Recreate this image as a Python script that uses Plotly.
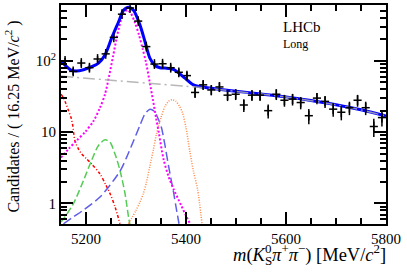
import numpy as np
import plotly.graph_objects as go

# ---------------- data ----------------
mass_min = 5150.0
bin_width = 16.25
counts = [100, 71, 93, 80, 106, 125, 213, 450, 550, 360,
          158, 90, 91, 80, 69, 62, 36, 46, 39, 43,
          33, 34, 24, 33, 33, 20, 34, 28, 29, 26,
          17, 30, 27, 21, 19, 22, 28, 22, 12, 16]

total_x = [5150, 5160, 5170, 5180, 5195, 5210, 5225, 5238, 5251, 5265, 5275, 5285,
           5295, 5308, 5318, 5328, 5338, 5348, 5358, 5368, 5376, 5385, 5398, 5415,
           5435, 5470, 5500, 5550, 5600, 5650, 5700, 5750, 5800]
total_y = [100, 84, 74, 72, 75, 82, 93, 121, 206, 350, 510, 565,
           510, 316, 185, 108, 86, 80, 79, 78, 75, 68, 57, 46,
           42.5, 39.5, 37.5, 34.3, 31.2, 27.7, 24.2, 20.6, 16.8]

comb_x = [5150, 5200, 5250, 5300, 5350, 5400, 5450, 5500, 5550, 5600, 5650, 5700, 5750, 5800]
comb_y = [61, 57, 53.5, 50, 47, 44, 40.8, 37.3, 34.2, 31.1, 27.6, 24.1, 20.5, 16.8]

sig_x = [5150, 5165, 5181, 5198, 5215, 5228, 5238, 5246, 5254, 5262, 5270, 5277, 5283,
         5290, 5298, 5306, 5313, 5320, 5327, 5334, 5340, 5346, 5355, 5365, 5375, 5390, 5408]
sig_y = [4.4, 5.8, 7.6, 10, 14.3, 22, 34, 60, 115, 220, 370, 480, 515,
         460, 340, 230, 150, 95, 52, 28, 16, 9.5, 4.2, 2.4, 1.6, 0.95, 0.52]

red_x = [5150, 5155, 5160, 5165, 5170, 5173, 5178, 5185, 5191, 5200, 5211, 5228, 5240, 5248, 5258, 5268]
red_y = [34, 30, 25, 20, 16, 13, 7.5, 5.8, 5.0, 4.3, 3.6, 2.6, 1.8, 1.38, 0.9, 0.52]

green_x = [5150, 5158, 5175, 5195, 5211, 5225, 5238, 5248, 5258, 5268, 5278, 5285, 5288]
green_y = [0.55, 0.65, 1.0, 2.1, 4.0, 6.5, 7.8, 7.2, 4.95, 2.9, 1.38, 0.65, 0.5]

bdash_x = [5155, 5175, 5195, 5228, 5255, 5270, 5281, 5295, 5308, 5318, 5328, 5337,
           5345, 5351, 5358, 5365, 5370, 5375, 5380, 5386]
bdash_y = [0.52, 0.65, 0.81, 1.23, 2.1, 3.0, 4.4, 7.5, 12.5, 18, 21, 19.5,
           15, 11.5, 6.5, 3.4, 2.2, 1.45, 0.9, 0.52]

orange_x = [5285, 5300, 5308, 5315, 5321, 5328, 5335, 5341, 5350, 5358, 5365, 5372,
            5380, 5387, 5393, 5400, 5408, 5415, 5423, 5432]
orange_y = [0.52, 0.8, 1.05, 1.4, 2.0, 3.4, 5.8, 9.5, 16, 23, 27, 28.5,
            27, 23, 18.7, 11.5, 5.2, 2.8, 1.6, 0.52]

x_tick_vals = [5200, 5400, 5600, 5800]
y_tick_vals = [1, 10, 100]
y_tick_text = ["1", "10", "10<sup>2</sup>"]

# ---------------- figure ----------------
FONT = "Liberation Serif"
counts_arr = np.array(counts, dtype=float)
centers = mass_min + bin_width * (np.arange(len(counts)) + 0.5)
errs = np.sqrt(counts_arr)

fig = go.Figure()

def curve(x, y, color, width, dash):
    fig.add_trace(go.Scatter(x=x, y=y, mode="lines",
                             line=dict(color=color, width=width, dash=dash,
                                       shape="spline", smoothing=0.8),
                             hoverinfo="skip", showlegend=False))

curve(red_x, red_y, "#ff0000", 1.5, "3px,2px,1px,2px")
curve(green_x, green_y, "#55cc55", 1.5, "7px,3px")
curve(bdash_x, bdash_y, "#5e5ee8", 1.5, "9px,4px")
curve(orange_x, orange_y, "#ff8844", 1.5, "1px,1.5px")
curve(sig_x, sig_y, "#ff00ff", 2, "2px,2px")
curve(total_x, total_y, "#0000ff", 3, "solid")
curve(comb_x, comb_y, "rgba(170,170,170,0.85)", 1.5, "12px,4px,2px,4px")

fig.add_trace(go.Scatter(
    x=centers, y=counts_arr, mode="markers",
    marker=dict(symbol="line-ns", size=7, color="black",
                line=dict(color="black", width=1.5)),
    error_y=dict(type="data", array=errs, color="black", thickness=1.5, width=0),
    error_x=dict(type="constant", value=bin_width / 2, color="black", thickness=1.5, width=0),
    hoverinfo="skip", showlegend=False))

axis_common = dict(showline=True, linecolor="black", linewidth=2, mirror="ticks",
                   ticks="inside", tickcolor="black", tickwidth=1.5,
                   showgrid=False, zeroline=False,
                   tickfont=dict(family=FONT, size=15, color="black"))

fig.update_xaxes(range=[5150, 5800], tickvals=x_tick_vals, ticklen=12,
                 minor=dict(dtick=50, tick0=5150, ticks="inside", ticklen=6,
                            tickcolor="black", tickwidth=1.5, showgrid=False),
                 **axis_common)

minor_y = [v * m for m in (0.1, 1, 10, 100) for v in range(2, 10)]
fig.update_yaxes(type="log", range=[-0.2875, 2.782], tickvals=y_tick_vals,
                 ticktext=y_tick_text, ticklen=12,
                 minor=dict(tickvals=minor_y, ticks="inside", ticklen=6,
                            tickcolor="black", tickwidth=1.5, showgrid=False),
                 **axis_common)

XT = 18.5
fig.update_layout(
    width=407, height=274,
    margin=dict(l=61, r=21, t=3, b=50),
    paper_bgcolor="white", plot_bgcolor="white",
    font=dict(family=FONT, color="black"),
    annotations=[
        dict(text="Candidates / ( 16.25 MeV/<i>c</i><sup>2</sup> )", textangle=-90,
             xref="paper", yref="paper", x=-0.148, y=0.49, xanchor="center", yanchor="middle",
             showarrow=False, font=dict(family=FONT, size=16, color="black")),
        dict(text="<i>m</i>(<i>K</i><sub>S</sub><i>π</i><sup>+</sup><i>π</i><sup>−</sup>) [MeV/<i>c</i><sup>2</sup>]",
             xref="paper", yref="paper", x=1.005, y=-0.140, xanchor="right", yanchor="middle",
             showarrow=False, font=dict(family=FONT, size=XT, color="black")),
        dict(text="0", xref="paper", yref="paper", x=0.638, y=-0.112,
             xanchor="center", yanchor="middle", showarrow=False,
             font=dict(family=FONT, size=13, color="black")),
        dict(text="LHCb", xref="paper", yref="paper", x=0.676, y=0.90,
             xanchor="left", yanchor="middle", showarrow=False,
             font=dict(family=FONT, size=15, color="black")),
        dict(text="Long", xref="paper", yref="paper", x=0.678, y=0.822,
             xanchor="left", yanchor="middle", showarrow=False,
             font=dict(family=FONT, size=12, color="black")),
    ],
)

fig.write_html("out.html", post_script="document.body.style.margin='0';",
               config={"displayModeBar": False})
